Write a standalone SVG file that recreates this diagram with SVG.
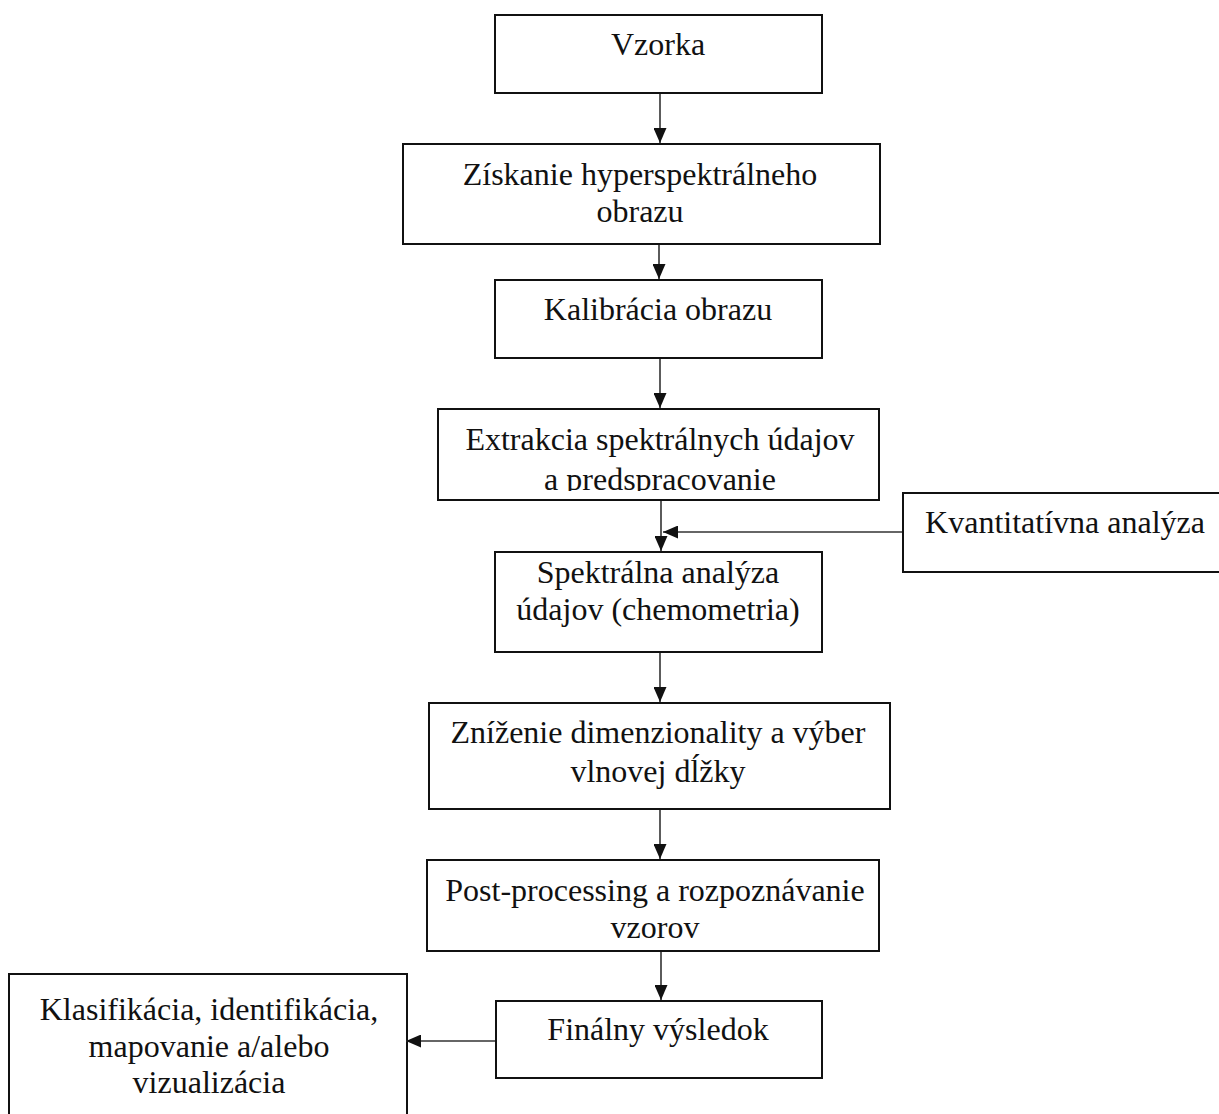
<svg xmlns="http://www.w3.org/2000/svg" width="1219" height="1114" viewBox="0 0 1219 1114">
<style>
.box{fill:#fff;stroke:#111;stroke-width:2}
.t{font-family:"Liberation Serif","Times New Roman",serif;font-size:32px;fill:#111;text-anchor:middle}
.c{stroke:#333;stroke-width:1.6;fill:none;marker-end:url(#ah)}
</style>
<defs>
<marker id="ah" viewBox="0 0 15 13" refX="15" refY="6.5" markerWidth="15" markerHeight="13" markerUnits="userSpaceOnUse" orient="auto">
<path d="M0,0 L15,6.5 L0,13 z" fill="#111"/>
</marker>
<clipPath id="clipExt"><rect x="439" y="410" width="439" height="81"/></clipPath>
</defs>
<rect width="1219" height="1114" fill="#fff"/>
<g id="n1"><rect class="box" x="495" y="15" width="327" height="78"/><text class="t" x="658" y="55">Vzorka</text></g>
<g id="n2"><rect class="box" x="403" y="144" width="477" height="100"/><text class="t" x="640" y="185">Získanie hyperspektrálneho</text><text class="t" x="640" y="222">obrazu</text></g>
<g id="n3"><rect class="box" x="495" y="280" width="327" height="78"/><text class="t" x="658" y="320">Kalibrácia obrazu</text></g>
<g id="n4"><rect class="box" x="438" y="409" width="441" height="91"/><g clip-path="url(#clipExt)"><text class="t" x="660" y="450">Extrakcia spektrálnych údajov</text><text class="t" x="660" y="490">a predspracovanie</text></g></g>
<g id="n5"><rect class="box" x="903" y="493" width="330" height="79"/><text class="t" x="1065" y="533">Kvantitatívna analýza</text></g>
<g id="n6"><rect class="box" x="495" y="552" width="327" height="100"/><text class="t" x="658" y="583">Spektrálna analýza</text><text class="t" x="658" y="620">údajov (chemometria)</text></g>
<g id="n7"><rect class="box" x="429" y="703" width="461" height="106"/><text class="t" x="658" y="743">Zníženie dimenzionality a výber</text><text class="t" x="658" y="782">vlnovej dĺžky</text></g>
<g id="n8"><rect class="box" x="427" y="860" width="452" height="91"/><text class="t" x="655" y="901">Post-processing a rozpoznávanie</text><text class="t" x="655" y="938">vzorov</text></g>
<g id="n9"><rect class="box" x="496" y="1001" width="326" height="77"/><text class="t" x="658" y="1040">Finálny výsledok</text></g>
<g id="n10"><rect class="box" x="9" y="974" width="398" height="150"/><text class="t" x="209" y="1020">Klasifikácia, identifikácia,</text><text class="t" x="209" y="1057">mapovanie a/alebo</text><text class="t" x="209" y="1093">vizualizácia</text></g>
<g id="connectors">
<line class="c" x1="660" y1="94" x2="660" y2="143"/>
<line class="c" x1="659" y1="245" x2="659" y2="279"/>
<line class="c" x1="660" y1="359" x2="660" y2="408"/>
<line class="c" x1="661" y1="501" x2="661" y2="551"/>
<line class="c" x1="902" y1="532" x2="663" y2="532"/>
<line class="c" x1="660" y1="653" x2="660" y2="702"/>
<line class="c" x1="660" y1="810" x2="660" y2="859"/>
<line class="c" x1="661" y1="952" x2="661" y2="1000"/>
<line class="c" x1="495" y1="1041" x2="406" y2="1041"/>
</g>
</svg>
